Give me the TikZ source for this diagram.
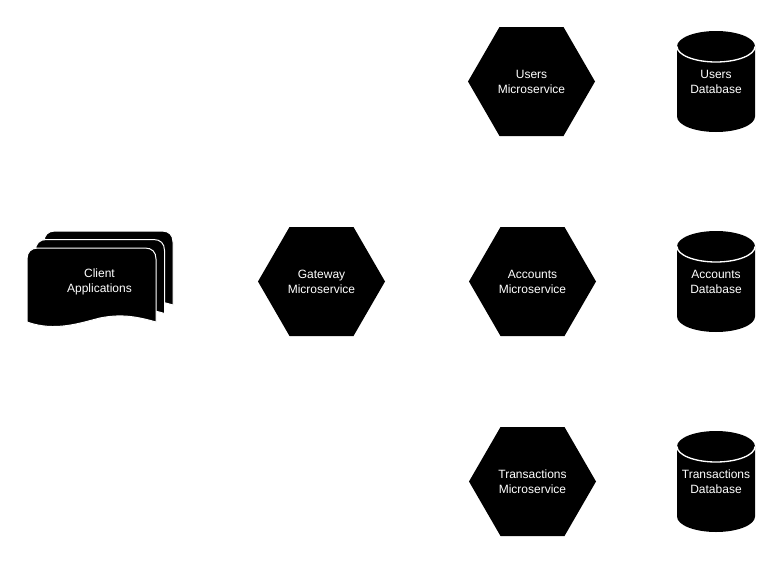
\documentclass[tikz,border=0pt]{standalone}
\usepackage{fontspec}
\setmainfont{Liberation Sans}
\tikzset{
  px/.style={x=0.75pt,y=-0.75pt},
  lbl/.style={text=white,font=\fontsize{9}{11.25}\selectfont,align=center,inner sep=0pt},
  solidshape/.style={fill=black,draw=white,line width=0.75pt,line join=round},
  hexshape/.style={fill=black,draw=none},
}
\newcommand{\hexagonat}[2]{% centre x, centre y
  \fill[hexshape] (#1-63.5,#2) -- (#1-32,#2-54.5) -- (#1+32,#2-54.5) -- (#1+63.5,#2) -- (#1+32,#2+54.5) -- (#1-32,#2+54.5) -- cycle;
}
\newcommand{\cylinderat}[2]{% centre x, centre y of the body
  \fill[black] (#1-39,#2-35) -- (#1-39,#2+35) arc[start angle=180,end angle=360,x radius=39,y radius=-15.5] -- (#1+39,#2-35) arc[start angle=0,end angle=180,x radius=39,y radius=-15.5] -- cycle;
  \draw[white,line width=1pt] (#1-39,#2-35) arc[start angle=180,end angle=360,x radius=39,y radius=-15.5];
}
\newcommand{\sheet}[1]{%
  \begin{scope}[shift={(#1,-#1)}]
  \path[solidshape] (27,322) -- (27,259) .. controls (27,252) and (31,248) .. (38,248)
    -- (145,248) .. controls (152,248) and (156,252) .. (156,259) -- (156,322)
    .. controls (135,316) and (120,314) .. (100,318)
    .. controls (80,323) and (55,332) .. (27,322) -- cycle;
  \end{scope}}
\begin{document}
\begin{tikzpicture}[px]
\useasboundingbox (0,0) rectangle (782,564);
\fill[white] (0,0) rectangle (782,564);
% client applications: three stacked sheets
\sheet{17}\sheet{8.5}\sheet{0}
\node[lbl] (client) at (99.5,282.3) {Client\\Applications};
% microservices
\hexagonat{321.5}{281.5}
\node[lbl] (gateway) at (321.5,281.5) {Gateway\\Microservice};
\hexagonat{531.5}{81.5}
\node[lbl] (users) at (531.5,81.5) {Users\\Microservice};
\hexagonat{532.5}{281.5}
\node[lbl] (accounts) at (532.5,281.5) {Accounts\\Microservice};
\hexagonat{532.5}{481.5}
\node[lbl] (transactions) at (532.5,481.5) {Transactions\\Microservice};
% databases
\cylinderat{716}{81.5}
\node[lbl] (usersdb) at (716,81.5) {Users\\Database};
\cylinderat{716}{281.5}
\node[lbl] (accountsdb) at (716,281.5) {Accounts\\Database};
\cylinderat{716}{481.5}
\node[lbl] (transactionsdb) at (716,481.5) {Transactions\\Database};
\end{tikzpicture}
\end{document}
